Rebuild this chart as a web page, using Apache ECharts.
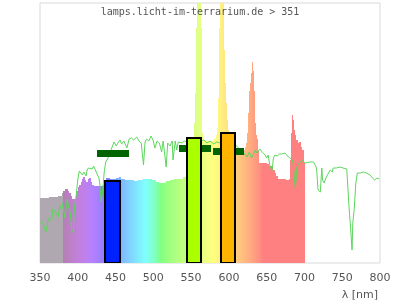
<!DOCTYPE html>
<html><head><meta charset="utf-8">
<script src="https://cdn.jsdelivr.net/npm/echarts@6/dist/echarts.min.js"></script>
<style>html,body{margin:0;padding:0;background:#fff}#c{width:400px;height:300px}</style>
</head><body><div id="c"></div>
<script>
// ---------- data ----------
const titleText = 'lamps.licht-im-terrarium.de > 351';
const axisName = 'λ [nm]';
const xMin = 350, xMax = 800, xStep = 50;

// lamp spectrum (wavelength nm, relative intensity)
const specWl = [350,356,362,368,374,377,379,381,383,385,387,389,391,393,396,398,400,402,404,406,407,409,411,413,415,417,419,422,428,434,438,442,447,451,454,457,462,468,474,480,486,492,498,503,507,512,517,522,528,534,539,543,547,551,553,554,555,556,557,558,559,560,561,562,563,564,565,566,570,575,580,583,584,585,586,587,588,589,590,591,592,593,594,595,596,597,598,599,600,602,604,606,608,609,614,619,621,622,623,624,625,626,627,628,629,630,631,632,633,634,635,636,637,638,639,640,641,645,650,653,657,659,661,663,665,670,675,680,681,682,683,684,685,686,687,689,691,693,695,697,699,700];
const specVal = [65,65,66,66,67,67,70,72,74,74,72,70,67,64,64,72,76,78,81,84,86,83,81,84,85,81,78,77,77,78,85,84,84,85,86,84,83,83,82,83,84,84,83,81,80,80,82,83,84,84,86,86,88,92,120,140,170,200,235,290,320,330,320,290,235,170,130,122,122,122,124,128,135,143,165,235,300,320,330,330,300,240,213,180,160,150,143,133,130,126,120,115,110,112,112,113,116,115,120,130,150,165,172,180,190,200,201,192,172,150,140,128,124,118,112,100,100,100,99,97,96,93,90,87,84,84,83,84,103,130,146,148,143,133,128,123,120,121,116,113,105,100];
const specEnd = 701;

// reference daylight line
const sunWl = [352,355,358,361,363,366,367,370,372,374,376,379,380,383,386,388,390,392,394,395,396,398,399,400,402,403,406,408,411,412,414,416,419,421,423,425,428,429,431,433,435,437,440,443,445,448,451,453,456,458,461,465,468,471,474,478,481,484,487,489,491,494,497,500,502,505,508,511,513,517,519,522,525,526,529,531,533,535,538,541,546,551,557,562,567,571,575,580,584,588,594,599,604,609,615,619,624,627,630,635,637,641,644,648,650,652,654,657,659,661,664,667,670,674,679,681,684,685,688,690,692,694,697,699,701,703,707,712,714,716,718,721,723,724,726,729,731,734,737,738,742,747,751,756,758,759,761,763,764,766,768,770,774,778,782,787,790,793,796,799];
const sunVal = [42,37,31,45,42,44,54,52,51,46,57,53,60,45,64,55,51,33,30,48,58,68,76,83,92,92,88,91,87,92,95,96,94,97,95,90,85,80,61,73,91,101,105,111,113,121,117,120,123,119,122,115,124,125,123,126,122,120,98,121,124,122,127,122,115,122,120,111,122,96,120,117,122,103,122,113,121,123,120,122,120,123,121,122,123,120,122,119,121,120,118,119,117,118,113,111,106,111,105,113,110,114,111,108,105,108,98,92,105,108,107,109,109,110,106,105,103,100,74,96,99,100,103,101,100,101,101,101,100,95,73,71,95,83,80,86,85,93,91,95,95,96,95,94,93,56,36,13,40,55,80,90,90,91,90,88,85,83,85,84];

// colour-range bars
const barFrom = [436, 544.5, 590];
const barTo   = [456, 563.5, 608];
const barVal  = [82, 125, 130];

// dark green range markers
const markFrom = [425, 534.5, 578.5];
const markTo   = [468, 576, 620];
const markVal  = [110, 115, 112];

// ---------- styles ----------
const barColors = ['#0022ff', '#aaff00', '#ffb400'];
const markColor = '#006400';
const lineColor = '#5cd65c';

function specColor(w) {
  if (w < 380) return '#b0a8b0';
  let r = 0, g = 0, b = 0;
  if (w < 440) { r = -(w - 440) / 60; b = 1; }
  else if (w < 490) { g = (w - 440) / 50; b = 1; }
  else if (w < 510) { g = 1; b = -(w - 510) / 20; }
  else if (w < 580) { r = (w - 510) / 70; g = 1; }
  else if (w < 645) { r = 1; g = -(w - 645) / 65; }
  else { r = 1; }
  let f = 1;
  if (w < 420) f = 0.3 + 0.7 * (w - 380) / 40;
  else if (w > 700) f = 0.3 + 0.7 * (780 - w) / 80;
  const c = v => Math.round(((v * f) > 0 ? Math.pow(v * f, 0.8) * 255 : 0) * 0.5 + 127.5);
  return 'rgb(' + c(r) + ',' + c(g) + ',' + c(b) + ')';
}

const specData = specWl.map((w, i) => [w, i + 1 < specWl.length ? specWl[i + 1] : specEnd, specVal[i]]);
const sunData = sunWl.map((w, i) => [w, sunVal[i]]);
const barData = barFrom.map((w, i) => [w, barTo[i], barVal[i], i]);
const markData = markFrom.map((w, i) => [w, markTo[i], markVal[i]]);

const chart = echarts.init(document.getElementById('c'), null, {renderer: 'canvas'});
chart.setOption({
  animation: false,
  title: {
    text: titleText, left: 'center', top: 2,
    textStyle: {fontFamily: 'DejaVu Sans Mono', fontSize: 10, fontWeight: 'normal', color: '#555'}
  },
  grid: {left: 40, right: 20, top: 3, bottom: 37, show: true, borderColor: '#d9d9d9', borderWidth: 1},
  xAxis: {
    type: 'value', min: xMin, max: xMax, interval: xStep,
    axisLine: {show: false}, axisTick: {show: false}, splitLine: {show: false},
    axisLabel: {color: '#555', fontSize: 11, fontFamily: 'DejaVu Sans', margin: 10, showMinLabel: true, showMaxLabel: true}
  },
  yAxis: {type: 'value', min: 0, max: 260, show: false},
  graphic: [{
    type: 'text', right: 22, top: 290,
    style: {text: axisName, font: '11px "DejaVu Sans"', fill: '#555'}
  }],
  series: [
    {
      type: 'custom', z: 1, clip: true, data: specData, encode: {x: [0, 1], y: 2},
      renderItem(params, api) {
        const x0 = api.value(0), x1 = api.value(1), v = api.value(2);
        const a = api.coord([x0, v]), b = api.coord([x1, 0]);
        const p0 = Math.round(a[0]), p1 = Math.round(b[0]);
        const top = Math.round(a[1]), bot = Math.round(b[1]);
        const children = [];
        for (let px = p0; px < p1; px++) {
          const w = x0 + (px + 0.5 - a[0]) / (b[0] - a[0]) * (x1 - x0);
          children.push({type: 'rect', shape: {x: px, y: top, width: 1, height: bot - top},
            style: {fill: specColor(w)}});
        }
        return {type: 'group', children};
      }
    },
    {
      type: 'line', z: 2, data: sunData, showSymbol: false, symbol: 'none',
      lineStyle: {color: lineColor, width: 1}
    },
    {
      type: 'custom', z: 3, clip: true, data: markData, encode: {x: [0, 1], y: 2},
      renderItem(params, api) {
        const a = api.coord([api.value(0), api.value(2)]), b = api.coord([api.value(1), api.value(2)]);
        return {type: 'rect', shape: {x: Math.round(a[0]), y: Math.round(a[1] - 3.5), width: Math.round(b[0]) - Math.round(a[0]), height: 7}, style: {fill: markColor}};
      }
    },
    {
      type: 'custom', z: 4, clip: true, data: barData, encode: {x: [0, 1], y: 2},
      renderItem(params, api) {
        const a = api.coord([api.value(0), api.value(2)]), b = api.coord([api.value(1), 0]);
        const x = Math.round(a[0]), y = Math.round(a[1]);
        return {type: 'rect', shape: {x: x, y: y, width: Math.round(b[0]) - x, height: Math.round(b[1]) - y},
          style: {fill: barColors[api.value(3)], stroke: '#000', lineWidth: 2}};
      }
    }
  ]
});
</script>
</body></html>
